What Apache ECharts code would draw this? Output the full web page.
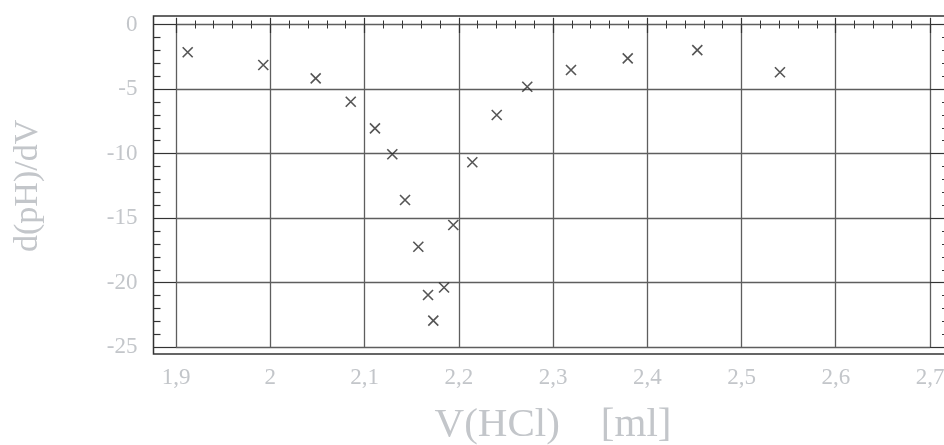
<!DOCTYPE html>
<html>
<head>
<meta charset="utf-8">
<script src="https://cdn.jsdelivr.net/npm/echarts@6/dist/echarts.min.js"></script>
<style>html,body{margin:0;padding:0;background:#fff}#c{width:944px;height:445px}</style>
</head>
<body>
<div id="c"></div>
<script>
// Data
const volumes = [1.9124, 1.9926, 2.0482, 2.0854, 2.1111, 2.1295, 2.1430, 2.1571, 2.1942, 2.1844,
                 2.1674, 2.1730, 2.2144, 2.2403, 2.2727, 2.3191, 2.3793, 2.4531, 2.5408];
const derivs  = [-2.15, -3.14, -4.17, -5.98, -8.04, -10.05, -13.59, -17.21, -15.53, -20.37,
                 -20.95, -22.93, -10.67, -7.01, -4.82, -3.52, -2.62, -1.98, -3.70];
const xTickLabels = ['1,9', '2', '2,1', '2,2', '2,3', '2,4', '2,5', '2,6', '2,7'];
const yTickLabels = ['-25', '-20', '-15', '-10', '-5', '0'];
const xTitle = 'V(HCl)    [ml]';
const yTitle = 'd(pH)/dV';

const points = volumes.map((v, i) => [v, derivs[i]]);
const fmtX = v => { const s = (+v.toFixed(3)).toString().replace('.', ','); return xTickLabels.includes(s) ? s : ''; };
const fmtY = v => { const s = (+v.toFixed(3)).toString(); return yTickLabels.includes(s) ? s : ''; };

const labelColor = '#c3c6ca';
const font = 'Liberation Serif';
const tickColor = '#333';

const chart = echarts.init(document.getElementById('c'), null, {renderer: 'canvas'});
chart.setOption({
  animation: false,
  backgroundColor: '#fff',
  grid: [
    {left: 176, right: 14, top: 24.5, bottom: 97.7, show: false, containLabel: false, outerBoundsMode: 'none'},
    {left: 153.5, right: -2, top: 16, bottom: 91, show: true, borderColor: '#333', borderWidth: 1.5,
     backgroundColor: 'transparent', z: 3, containLabel: false, outerBoundsMode: 'none'}
  ],
  xAxis: [
    {
      type: 'value', gridIndex: 0, position: 'bottom', offset: 6.7,
      min: 1.9, max: 2.7, interval: 0.1,
      axisLine: {show: false},
      axisTick: {show: true, inside: true, length: 6.7, lineStyle: {color: tickColor, width: 1.2}},
      minorTick: {show: true, splitNumber: 5, length: 4, lineStyle: {color: tickColor, width: 1}},
      axisLabel: {show: true, margin: 12, color: labelColor, fontFamily: font, fontSize: 23, formatter: fmtX},
      splitLine: {show: true, lineStyle: {color: '#5e5e5e', width: 1.3}},
      name: xTitle, nameLocation: 'middle', nameGap: 51,
      nameTextStyle: {color: labelColor, fontFamily: font, fontSize: 41}
    },
    {
      type: 'value', gridIndex: 0, position: 'top', offset: 8.5,
      min: 1.9, max: 2.7, interval: 0.1,
      axisLine: {show: false},
      axisTick: {show: true, inside: true, length: 8.5, lineStyle: {color: tickColor, width: 1.2}},
      minorTick: {show: true, splitNumber: 5, length: 4, lineStyle: {color: tickColor, width: 1}},
      axisLabel: {show: false},
      splitLine: {show: false}
    },
    {type: 'value', gridIndex: 1, show: false, min: 0, max: 1}
  ],
  yAxis: [
    {
      type: 'value', gridIndex: 0, position: 'left', offset: 22.5,
      min: -25, max: 0, interval: 5,
      axisLine: {show: false},
      axisTick: {show: true, inside: true, length: 22.5, lineStyle: {color: tickColor, width: 1.2}},
      minorTick: {show: true, splitNumber: 5, length: 7, lineStyle: {color: tickColor, width: 1.2}},
      axisLabel: {show: true, margin: 16, color: labelColor, fontFamily: font, fontSize: 23, formatter: fmtY},
      splitLine: {show: true, lineStyle: {color: '#5e5e5e', width: 1.3}},
      name: yTitle, nameLocation: 'middle', nameGap: 108, nameRotate: 90,
      nameTextStyle: {color: labelColor, fontFamily: font, fontSize: 34}
    },
    {
      type: 'value', gridIndex: 0, position: 'right', offset: 16,
      min: -25, max: 0, interval: 5,
      axisLine: {show: false},
      axisTick: {show: true, inside: true, length: 16, lineStyle: {color: tickColor, width: 1.2}},
      minorTick: {show: true, splitNumber: 5, length: 4, lineStyle: {color: tickColor, width: 1}},
      axisLabel: {show: false},
      splitLine: {show: false}
    },
    {type: 'value', gridIndex: 1, show: false, min: 0, max: 1}
  ],
  series: [{
    type: 'scatter',
    xAxisIndex: 0, yAxisIndex: 0,
    data: points,
    symbol: 'path://M0,0L10,10M10,0L0,10',
    symbolSize: 10,
    itemStyle: {color: 'rgba(0,0,0,0)', borderColor: '#2a2a2a', borderWidth: 1.6},
    z: 5
  }]
});
</script>
</body>
</html>
